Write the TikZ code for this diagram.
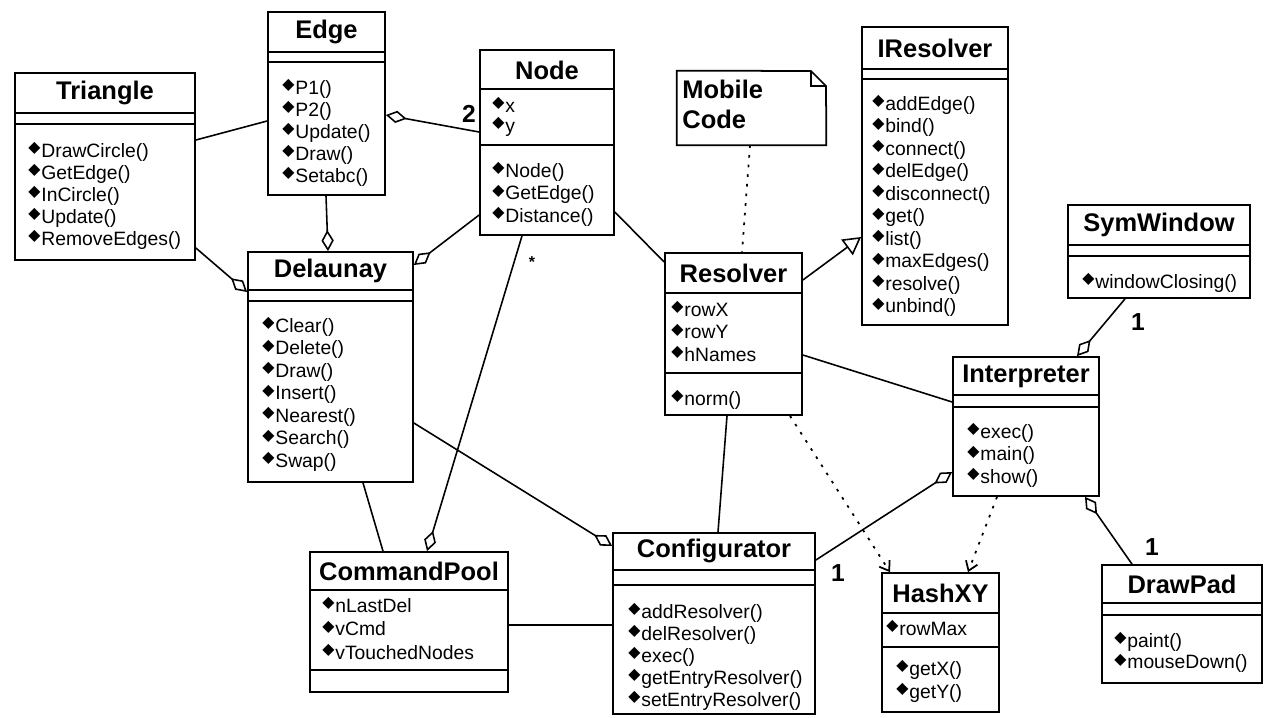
\documentclass[tikz,border=0pt]{standalone}
\usepackage{fontspec}
\setmainfont{Liberation Sans}
\newfontfamily\symfont{DejaVu Sans}
\usetikzlibrary{arrows.meta,fit}

\newcommand{\opicon}{{\symfont\fontsize{9}{9}\selectfont\raisebox{2.5pt}{◆}}\kern0.5pt}
\newcommand{\umlclass}[5]{\node[classbox, fit={(#2,#3) (#4,#5)}] (#1) {};}
\newcommand{\compsep}[2]{\draw[line width=0.9pt] (#1.west |- 0,#2) -- (#1.east |- 0,#2);}

\tikzset{
  classbox/.style={draw, line width=1pt, inner sep=0pt},
  title/.style={font=\fontsize{14.5}{16}\selectfont\bfseries, inner sep=0pt},
  op/.style={anchor=west, inner sep=0pt, font=\fontsize{11}{13}\selectfont, execute at begin node=\opicon},
  mult/.style={font=\fontsize{14}{16}\selectfont\bfseries, inner sep=0pt},
  agg/.style={line width=0.9pt, {Diamond[open,length=12pt,width=7pt]}-},
  gen/.style={line width=0.9pt, -{Triangle[open,length=10pt,width=11pt]}},
  dep/.style={line width=1pt, dash pattern=on 1.5pt off 4pt, -{Straight Barb[length=5pt,width=7pt]}},
  link/.style={line width=0.9pt}
}

\begin{document}
\begin{tikzpicture}[x=0.02cm, y=-0.02cm]
\useasboundingbox (0,0) rectangle (1285,717);

% Triangle
\umlclass{tri}{15}{73}{195}{260}
\compsep{tri}{113} \compsep{tri}{124}
\node[title] (tri-t) at (tri.center |- 0,93) {Triangle};
\foreach \t [count=\i] in {DrawCircle(), GetEdge(), InCircle(), Update(), RemoveEdges()}
  \node[op] (tri-\i) at (28, 152+22*\i-22) {\t};

% Edge
\umlclass{edge}{268}{12}{385}{195}
\compsep{edge}{52} \compsep{edge}{62}
\node[title] (edge-t) at (edge.center |- 0,32) {Edge};
\foreach \t [count=\i] in {P1(), P2(), Update(), Draw(), Setabc()}
  \node[op] (edge-\i) at (282, 89+22*\i-22) {\t};

% Node
\umlclass{node}{480}{50}{614}{235}
\compsep{node}{89} \compsep{node}{145}
\node[title] (node-t) at (node.center |- 0,70) {Node};
\foreach \t [count=\i] in {x, y}
  \node[op] (node-a\i) at (492, 105+22*\i-22) {\t};
\foreach \t [count=\i] in {Node(), GetEdge(), Distance()}
  \node[op] (node-\i) at (492, 172+22.5*\i-22.5) {\t};

% Delaunay
\umlclass{dl}{248}{252}{413}{482}
\compsep{dl}{290} \compsep{dl}{301}
\node[title] (dl-t) at (dl.center |- 0,271) {Delaunay};
\foreach \t [count=\i] in {Clear(), Delete(), Draw(), Insert(), Nearest(), Search(), Swap()}
  \node[op] (dl-\i) at (262, 327+22.5*\i-22.5) {\t};

% Mobile Code note
\node[fit={(677,71) (826,145)}, inner sep=0pt] (note) {};
\draw[line width=1pt] (note.north west) -- (811,71) -- (826,86) -- (note.south east)
  -- (note.south west) -- cycle;
\draw[line width=0.6pt] (811,71) -- (811,86) -- (826,86);
\node[title, anchor=north west, align=left, font=\fontsize{14.5}{17}\selectfont\bfseries]
  (note-t) at (682,80) {Mobile\\Code};

% IResolver
\umlclass{ires}{862}{27}{1008}{325}
\compsep{ires}{69} \compsep{ires}{79}
\node[title] (ires-t) at (ires.center |- 0,48) {IResolver};
\foreach \t [count=\i] in {addEdge(), bind(), connect(), delEdge(), disconnect(), get(), list(), maxEdges(), resolve(), unbind()}
  \node[op] (ires-\i) at (872, 105+22.5*\i-22.5) {\t};

% SymWindow
\umlclass{sym}{1068}{205}{1250}{298}
\compsep{sym}{245} \compsep{sym}{256}
\node[title] (sym-t) at (sym.center |- 0,225) {SymWindow};
\node[op] (sym-1) at (1082,283) {windowClosing()};

% Resolver
\umlclass{res}{665}{253}{802}{415}
\compsep{res}{293} \compsep{res}{373}
\node[title] (res-t) at (res.center |- 0,273) {Resolver};
\foreach \t [count=\i] in {rowX, rowY, hNames}
  \node[op] (res-a\i) at (671, 309+22.5*\i-22.5) {\t};
\node[op] (res-1) at (671,400) {norm()};

% CommandPool
\umlclass{cp}{310}{552}{508}{692}
\compsep{cp}{590} \compsep{cp}{670}
\node[title] (cp-t) at (cp.center |- 0,571) {CommandPool};
\foreach \t [count=\i] in {nLastDel, vCmd, vTouchedNodes}
  \node[op] (cp-a\i) at (322, 605+23.5*\i-23.5) {\t};

% Configurator
\umlclass{cfg}{613}{533}{815}{714}
\compsep{cfg}{570} \compsep{cfg}{585}
\node[title] (cfg-t) at (cfg.center |- 0,551) {Configurator};
\foreach \t [count=\i] in {addResolver(), delResolver(), exec(), getEntryResolver(), setEntryResolver()}
  \node[op] (cfg-\i) at (628, 613+22*\i-22) {\t};

% Interpreter
\umlclass{int}{953}{357}{1099}{496}
\compsep{int}{395} \compsep{int}{407}
\node[title] (int-t) at (int.center |- 0,376) {Interpreter};
\foreach \t [count=\i] in {exec(), main(), show()}
  \node[op] (int-\i) at (967, 433+22.5*\i-22.5) {\t};

% HashXY
\umlclass{hash}{882}{573}{999}{712}
\compsep{hash}{613} \compsep{hash}{647}
\node[title] (hash-t) at (hash.center |- 0,593) {HashXY};
\node[op] (hash-a1) at (886,628) {rowMax};
\foreach \t [count=\i] in {getX(), getY()}
  \node[op] (hash-\i) at (896, 670+23*\i-23) {\t};

% DrawPad
\umlclass{dp}{1102}{565}{1262}{683}
\compsep{dp}{603} \compsep{dp}{615}
\node[title] (dp-t) at (dp.center |- 0,584) {DrawPad};
\foreach \t [count=\i] in {paint(), mouseDown()}
  \node[op] (dp-\i) at (1114, 642+21.5*\i-21.5) {\t};

% connectors
\draw[link] (tri.east |- 0,140) -- (edge.west |- 0,121);
\draw[agg] (edge.east |- 0,115) -- (node.west |- 0,132);
\draw[agg] (dl.north -| 328,0) -- (edge.south -| 326,0);
\draw[agg] (dl.west |- 0,292) -- (tri.east |- 0,248);
\draw[agg] (dl.east |- 0,265) -- (node.west |- 0,215);
\draw[agg] (cp.north -| 427,0) -- (node.south -| 522,0);
\draw[link] (dl.south -| 363,0) -- (cp.north -| 383,0);
\draw[agg] (cfg.west |- 0,546) -- (dl.east |- 0,423);
\draw[link] (cp.east |- 0,625) -- (cfg.west |- 0,625);
\draw[link] (res.south -| 727,0) -- (cfg.north -| 718,0);
\draw[link] (node.east |- 0,212) -- (res.west |- 0,262);
\draw[line width=1pt, dash pattern=on 1.5pt off 4pt] (note.south -| 750,0) -- (res.north -| 742,0);
\draw[gen] (res.east |- 0,280) -- (ires.west |- 0,237);
\draw[link] (res.east |- 0,355) -- (int.west |- 0,402);
\draw[dep] (res.south -| 790,0) -- (hash.north -| 890,0);
\draw[dep] (int.south -| 997,0) -- (hash.north -| 968,0);
\draw[agg] (int.west |- 0,472) -- (cfg.east |- 0,560);
\draw[agg] (int.north -| 1077,0) -- (sym.south -| 1125,0);
\draw[agg] (int.south -| 1085,0) -- (dp.north -| 1132,0);

% multiplicities
\node[mult] (m-node) at (469,114) {2};
\node[mult, font=\fontsize{9}{9}\selectfont\bfseries] (m-cp) at (532,262) {*};
\node[mult] (m-cfg) at (838,573) {1};
\node[mult] (m-sym) at (1138,322) {1};
\node[mult] (m-dp) at (1152,547) {1};
\end{tikzpicture}
\end{document}
